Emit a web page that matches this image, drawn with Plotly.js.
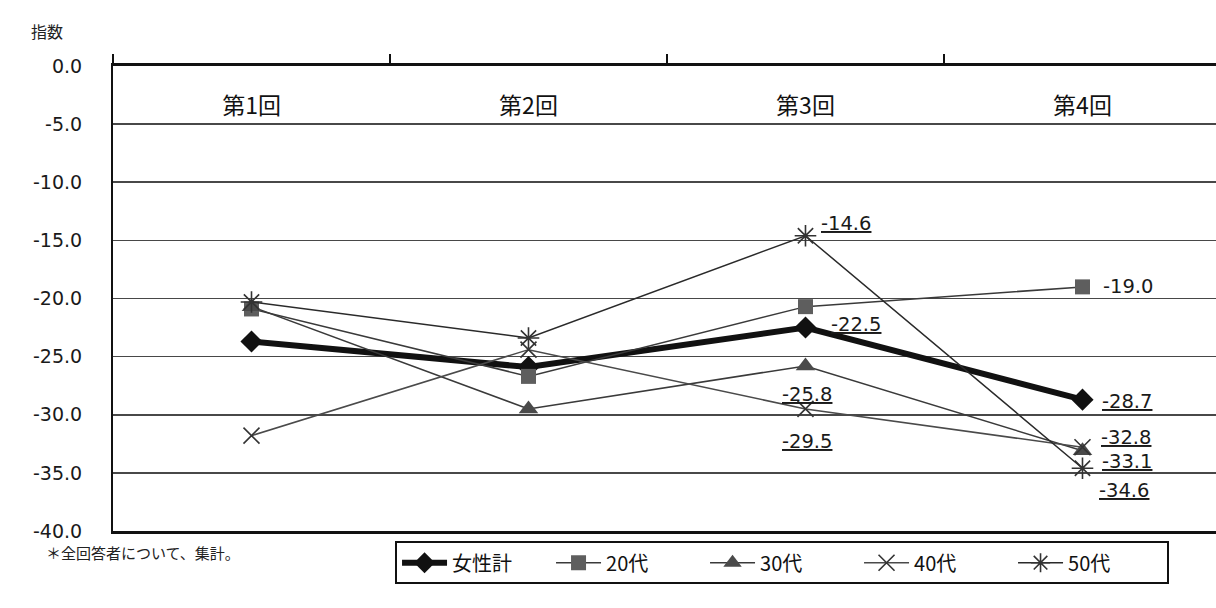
<!DOCTYPE html>
<html>
<head>
<meta charset="utf-8">
<script src="https://cdn.plot.ly/plotly-3.0.1.min.js"></script>
<style>
  html, body { margin: 0; padding: 0; background: #ffffff; }
  #chart { width: 1216px; height: 608px; }
</style>
</head>
<body>
<div id="chart"></div>
<script>
// Survey rounds (category axis)
const rounds = ['第1回', '第2回', '第3回', '第4回'];

// Index values per group
const seriesNames = ['女性計', '20代', '30代', '40代', '50代'];
const womenTotal = [-23.7, -25.9, -22.5, -28.7];
const age20s = [-20.9, -26.7, -20.7, -19.0];
const age30s = [-20.7, -29.5, -25.8, -33.1];
const age40s = [-31.8, -24.4, -29.5, -32.8];
const age50s = [-20.3, -23.4, -14.6, -34.6];

// Y axis ticks
const yTicks = [0, -5, -10, -15, -20, -25, -30, -35, -40];

const NUM_FONT = 'DejaVu Sans, Liberation Sans, sans-serif';
const JP_FONT = 'Noto Sans CJK JP, sans-serif';

const values = [womenTotal, age20s, age30s, age40s, age50s];

// Per-series drawing style
const styles = [
  { lw: 6,   lc: '#111111', sym: 'diamond',        ms: 17, mc: '#111111', mlw: 0 },
  { lw: 1.5, lc: '#3a3a3a', sym: 'square',         ms: 15, mc: '#5e5e5e', mlw: 0 },
  { lw: 1.5, lc: '#3a3a3a', sym: 'triangle-up',    ms: 17, mc: '#4a4a4a', mlw: 0 },
  { lw: 1.5, lc: '#4a4a4a', sym: 'x-thin-open',    ms: 16, mc: '#333333', mlw: 1.6 },
  { lw: 1.5, lc: '#2a2a2a', sym: 'asterisk-open',  ms: 18, mc: '#333333', mlw: 1.6 }
];

const traces = values.map((vals, i) => ({
  type: 'scatter',
  mode: 'lines+markers',
  name: seriesNames[i],
  x: rounds,
  y: vals,
  line: { color: styles[i].lc, width: styles[i].lw },
  marker: {
    symbol: styles[i].sym,
    size: styles[i].ms,
    color: styles[i].mc,
    line: { color: styles[i].mc, width: styles[i].mlw }
  },
  hoverinfo: 'x+y+name'
}));

// Data labels: [series, round, xshift, yshift, xanchor, underline]
const labelSpots = [
  [4, 2, 14, 12, 'left', true],
  [1, 3, 19, 0, 'left', false],
  [0, 2, 24, 3, 'left', true],
  [2, 2, 2, -29, 'center', true],
  [3, 2, 2, -33, 'center', true],
  [0, 3, 18, -2, 'left', true],
  [3, 3, 17, 10, 'left', true],
  [2, 3, 18, -11, 'left', true],
  [4, 3, 15, -22, 'left', true]
];

const annotations = labelSpots.map(([s, r, dx, dy, anchor, ul]) => {
  const txt = values[s][r].toFixed(1);
  return {
    x: rounds[r], y: values[s][r], xref: 'x', yref: 'y',
    text: ul ? '<u>' + txt + '</u>' : txt,
    showarrow: false, xanchor: anchor, yanchor: 'middle',
    xshift: dx, yshift: dy,
    font: { family: NUM_FONT, size: 19.5, color: '#1a1a1a' }
  };
});

annotations.push({
  xref: 'paper', yref: 'paper', x: -0.06, y: 1.045,
  xanchor: 'center', yanchor: 'bottom',
  text: '指数', showarrow: false,
  font: { family: JP_FONT, size: 16, color: '#222' }
});
annotations.push({
  xref: 'paper', yref: 'paper', x: -0.063, y: -0.047,
  xanchor: 'left', yanchor: 'middle',
  text: '＊全回答者について、集計。', showarrow: false,
  font: { family: JP_FONT, size: 15, color: '#222' }
});

const layout = {
  width: 1216, height: 608,
  margin: { l: 113, r: 0, t: 66, b: 77, autoexpand: false },
  paper_bgcolor: '#ffffff',
  plot_bgcolor: '#ffffff',
  showlegend: true,
  legend: {
    orientation: 'h',
    x: 0.2557, xanchor: 'left',
    y: -0.022, yanchor: 'top',
    bordercolor: '#111', borderwidth: 2,
    bgcolor: '#ffffff',
    itemwidth: 45,
    entrywidth: 94, entrywidthmode: 'pixels',
    font: { family: JP_FONT, size: 20, color: '#111' },
    traceorder: 'normal'
  },
  xaxis: {
    type: 'category',
    categoryorder: 'array', categoryarray: rounds,
    side: 'top',
    range: [-0.5, 3.482],
    showgrid: false, zeroline: false,
    showline: true, linecolor: '#111', linewidth: 3, mirror: true,
    ticks: 'outside', tickson: 'boundaries', ticklen: 9, tickwidth: 1.5, tickcolor: '#111',
    ticklabelposition: 'outside', ticklabelstandoff: -60,
    tickfont: { family: JP_FONT, size: 23, color: '#111' },
    fixedrange: true
  },
  yaxis: {
    range: [-40, 0],
    tickvals: yTicks,
    ticktext: yTicks.map(v => v.toFixed(1)),
    showgrid: true, gridcolor: '#484848', gridwidth: 1.6,
    zeroline: false,
    showline: true, linecolor: '#111', linewidth: 2,
    ticks: '', ticklabelstandoff: 25,
    tickfont: { family: NUM_FONT, size: 19, color: '#1a1a1a' },
    fixedrange: true
  },
  annotations: annotations
};

Plotly.newPlot('chart', traces, layout, { displayModeBar: false, staticPlot: true });
</script>
</body>
</html>
